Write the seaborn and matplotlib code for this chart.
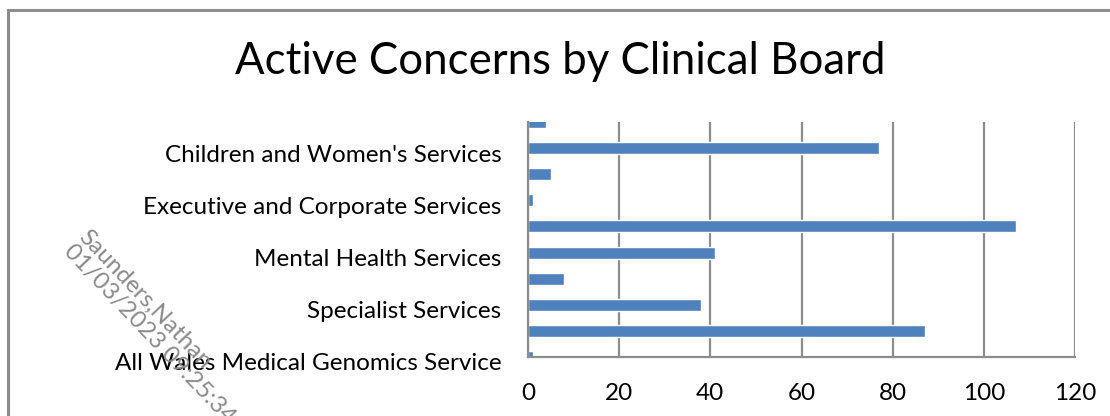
import pandas as pd
import seaborn as sns
import matplotlib.pyplot as plt
from matplotlib.patches import Rectangle
from matplotlib.transforms import ScaledTranslation

# clinical boards, listed from top to bottom as in the chart
boards = ['Capital Estates and Facilities',
          "Children and Women's Services",
          'Clinical Diagnostics and Therapeutics',
          'Executive and Corporate Services',
          'Medicine',
          'Mental Health Services',
          'Primary, Community and Intermediate Care',
          'Specialist Services',
          'Surgery',
          'All Wales Medical Genomics Service']
concerns = [4, 77, 5, 1, 107, 41, 8, 38, 87, 1]
# only every other board gets a label on the axis
shown = [False, True, False, True, False, True, False, True, False, True]
x_ticks = [0, 20, 40, 60, 80, 100, 120]

dados = pd.DataFrame({'board': boards, 'concerns': concerns})

sns.set_style('white')
plt.rcParams['font.family'] = ['Lato', 'DejaVu Sans']

fig = plt.figure(figsize=(11.1, 4.16), dpi=100)
ax = fig.add_axes([528 / 1110, 1 - 357 / 416, 547 / 1110, 235 / 416])

sns.barplot(data=dados, x='concerns', y='board', orient='h',
            color='#4F81BD', saturation=1, width=0.46, ax=ax)

ax.set_xlim(0, 120)
ax.set_ylim(len(boards) - 1, 0)
ax.set_xticks(x_ticks)
ax.set_xticklabels([str(t) for t in x_ticks])
ax.set_yticks(range(len(boards)))
ax.set_yticklabels([b if s else '' for b, s in zip(boards, shown)])
ax.set_xlabel('')
ax.set_ylabel('')

ax.grid(axis='x', color='#8c8c8c', linewidth=1.6)
ax.set_axisbelow(True)
for lado in ['top', 'right']:
    ax.spines[lado].set_visible(False)
for lado in ['left', 'bottom']:
    ax.spines[lado].set_color('#8c8c8c')
    ax.spines[lado].set_linewidth(1.6)
ax.tick_params(axis='x', length=0, pad=19, labelsize=17.5, labelcolor='black')
ax.tick_params(axis='y', length=0, pad=19, labelsize=17.5, labelcolor='black')

# rotulos do eixo y ficam um pouco abaixo do centro da barra
desloca = ScaledTranslation(0, -5 / 100, fig.dpi_scale_trans)
for rot in ax.get_yticklabels():
    rot.set_transform(rot.get_transform() + desloca)

# titulo
fig.text(560 / 1110, 1 - 62 / 416, 'Active Concerns by Clinical Board',
         ha='center', va='center', fontsize=31.5, color='black')

# moldura externa do grafico
fig.patches.append(Rectangle((8 / 1110, -0.1), 1.2, 1 - 10 / 416 + 0.1,
                             transform=fig.transFigure, fill=False,
                             edgecolor='#8c8c8c', linewidth=2.2))

# marca d'agua
fig.text(90 / 1110, 1 - 226 / 416, 'Saunders,Nathan\n01/03/2023 09:25:34',
         rotation=-46.5, rotation_mode='anchor', ha='left', va='top',
         fontsize=17.5, color='#8a8a8a', linespacing=1.0)

fig.savefig('out.png', dpi=100)
